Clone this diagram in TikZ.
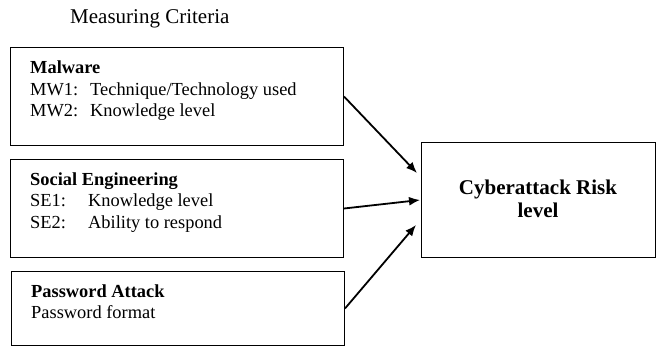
\documentclass[tikz,border=0pt]{standalone}
\usepackage{fontspec}
\setmainfont{Liberation Serif}
\usetikzlibrary{arrows.meta}
\begin{document}
\begin{tikzpicture}[x=1pt,y=-1pt,
  crit/.style={draw,line width=1pt,inner sep=0pt,anchor=north west},
  txt/.style={anchor=base west,inner sep=0pt,font=\fontsize{18.4}{21}\selectfont},
  head/.style={txt,font=\fontsize{18.4}{21}\selectfont\bfseries},
  link/.style={line width=1.8pt,-{Latex[length=11pt,width=9pt]}}]
\useasboundingbox (0,0) rectangle (657,347);

\node[anchor=base west,inner sep=0pt,font=\fontsize{21}{24}\selectfont] (title) at (70,24) {Measuring Criteria};

% criteria boxes
\node[crit,minimum width=333pt,minimum height=98pt] (mw) at (10,47) {};
\node[crit,minimum width=333pt,minimum height=98pt] (se) at (10,159) {};
\node[crit,minimum width=333pt,minimum height=74pt] (pa) at (11,271) {};

% target box
\node[crit,minimum width=234pt,minimum height=115pt] (risk) at (421,142) {};

% malware
\node[head] (mwh) at (30,74) {Malware};
\node[txt] (mw1) at (30,96) {MW1:};
\node[txt] (mw1t) at (90,96) {Technique/Technology used};
\node[txt] (mw2) at (30,117) {MW2:};
\node[txt] (mw2t) at (90,117) {Knowledge level};

% social engineering
\node[head] (seh) at (30,186) {Social Engineering};
\node[txt] (se1) at (30,207) {SE1:};
\node[txt] (se1t) at (88,207) {Knowledge level};
\node[txt] (se2) at (30,229) {SE2:};
\node[txt] (se2t) at (88,229) {Ability to respond};

% password attack
\node[head] (pah) at (31,298) {Password Attack};
\node[txt] (pat) at (31,319) {Password format};

% target label
\node[anchor=base,inner sep=0pt,font=\fontsize{21}{23}\selectfont\bfseries] (riskt) at (538,195) {Cyberattack Risk};
\node[anchor=base,inner sep=0pt,font=\fontsize{21}{23}\selectfont\bfseries] (riskl) at (538,218) {level};

% connectors
\draw[link] (mw.east) -- ([xshift=-4pt,yshift=27pt]risk.west);
\draw[link] (se.east) -- ([xshift=-1pt]risk.west);
\draw[link] (pa.east) -- ([xshift=-5pt,yshift=-25pt]risk.west);
\end{tikzpicture}
\end{document}
